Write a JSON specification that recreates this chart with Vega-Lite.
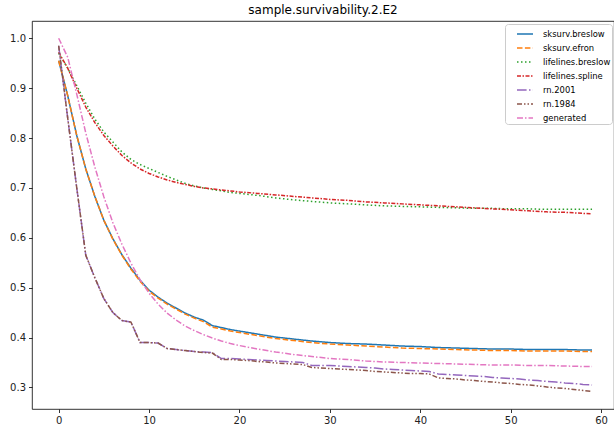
{
  "$schema": "https://vega.github.io/schema/vega-lite/v6.json",
  "width": 582,
  "height": 388,
  "autosize": {"type": "none"},
  "padding": {"left": 32, "top": 21, "right": 0, "bottom": 19},
  "background": "white",
  "title": {"text": "sample.survivability.2.E2", "font": "DejaVu Sans", "fontSize": 12, "fontWeight": "normal", "color": "#000", "offset": 4},
  "config": {
    "view": {"stroke": "#000", "strokeWidth": 0.8},
    "axis": {"labelFont": "DejaVu Sans", "labelFontSize": 10, "labelColor": "#222", "tickColor": "#000", "tickWidth": 0.8, "tickSize": 3.5, "domain": false, "grid": false, "title": null, "labelPadding": 3}
  },
  "data": {"values": [
    {"s":"sksurv.breslow","t":0,"v":0.955},{"s":"sksurv.breslow","t":1,"v":0.885},{"s":"sksurv.breslow","t":2,"v":0.805},{"s":"sksurv.breslow","t":3,"v":0.738},{"s":"sksurv.breslow","t":4,"v":0.683},{"s":"sksurv.breslow","t":5,"v":0.635},{"s":"sksurv.breslow","t":6,"v":0.598},{"s":"sksurv.breslow","t":7,"v":0.566},{"s":"sksurv.breslow","t":8,"v":0.539},{"s":"sksurv.breslow","t":9,"v":0.515},{"s":"sksurv.breslow","t":10,"v":0.495},{"s":"sksurv.breslow","t":11,"v":0.481},{"s":"sksurv.breslow","t":12,"v":0.469},{"s":"sksurv.breslow","t":13,"v":0.459},{"s":"sksurv.breslow","t":14,"v":0.449},{"s":"sksurv.breslow","t":15,"v":0.441},{"s":"sksurv.breslow","t":16,"v":0.435},{"s":"sksurv.breslow","t":17,"v":0.424},{"s":"sksurv.breslow","t":18,"v":0.420},{"s":"sksurv.breslow","t":19,"v":0.416},{"s":"sksurv.breslow","t":20,"v":0.413},{"s":"sksurv.breslow","t":22,"v":0.407},{"s":"sksurv.breslow","t":24,"v":0.401},{"s":"sksurv.breslow","t":26,"v":0.397},{"s":"sksurv.breslow","t":28,"v":0.393},{"s":"sksurv.breslow","t":30,"v":0.390},{"s":"sksurv.breslow","t":32,"v":0.388},{"s":"sksurv.breslow","t":34,"v":0.387},{"s":"sksurv.breslow","t":36,"v":0.385},{"s":"sksurv.breslow","t":38,"v":0.383},{"s":"sksurv.breslow","t":40,"v":0.382},{"s":"sksurv.breslow","t":42,"v":0.380},{"s":"sksurv.breslow","t":44,"v":0.379},{"s":"sksurv.breslow","t":46,"v":0.378},{"s":"sksurv.breslow","t":48,"v":0.377},{"s":"sksurv.breslow","t":50,"v":0.377},{"s":"sksurv.breslow","t":52,"v":0.376},{"s":"sksurv.breslow","t":54,"v":0.376},{"s":"sksurv.breslow","t":56,"v":0.376},{"s":"sksurv.breslow","t":58,"v":0.375},{"s":"sksurv.breslow","t":59,"v":0.375},
    {"s":"sksurv.efron","t":0,"v":0.955},{"s":"sksurv.efron","t":1,"v":0.885},{"s":"sksurv.efron","t":2,"v":0.805},{"s":"sksurv.efron","t":3,"v":0.738},{"s":"sksurv.efron","t":4,"v":0.683},{"s":"sksurv.efron","t":5,"v":0.635},{"s":"sksurv.efron","t":6,"v":0.597},{"s":"sksurv.efron","t":7,"v":0.565},{"s":"sksurv.efron","t":8,"v":0.537},{"s":"sksurv.efron","t":9,"v":0.513},{"s":"sksurv.efron","t":10,"v":0.493},{"s":"sksurv.efron","t":11,"v":0.479},{"s":"sksurv.efron","t":12,"v":0.467},{"s":"sksurv.efron","t":13,"v":0.457},{"s":"sksurv.efron","t":14,"v":0.447},{"s":"sksurv.efron","t":15,"v":0.439},{"s":"sksurv.efron","t":16,"v":0.432},{"s":"sksurv.efron","t":17,"v":0.421},{"s":"sksurv.efron","t":18,"v":0.417},{"s":"sksurv.efron","t":19,"v":0.413},{"s":"sksurv.efron","t":20,"v":0.410},{"s":"sksurv.efron","t":22,"v":0.404},{"s":"sksurv.efron","t":24,"v":0.398},{"s":"sksurv.efron","t":26,"v":0.394},{"s":"sksurv.efron","t":28,"v":0.390},{"s":"sksurv.efron","t":30,"v":0.387},{"s":"sksurv.efron","t":32,"v":0.385},{"s":"sksurv.efron","t":34,"v":0.383},{"s":"sksurv.efron","t":36,"v":0.381},{"s":"sksurv.efron","t":38,"v":0.379},{"s":"sksurv.efron","t":40,"v":0.378},{"s":"sksurv.efron","t":42,"v":0.377},{"s":"sksurv.efron","t":44,"v":0.376},{"s":"sksurv.efron","t":46,"v":0.375},{"s":"sksurv.efron","t":48,"v":0.374},{"s":"sksurv.efron","t":50,"v":0.374},{"s":"sksurv.efron","t":52,"v":0.373},{"s":"sksurv.efron","t":54,"v":0.373},{"s":"sksurv.efron","t":56,"v":0.373},{"s":"sksurv.efron","t":58,"v":0.372},{"s":"sksurv.efron","t":59,"v":0.372},
    {"s":"lifelines.breslow","t":0,"v":0.97},{"s":"lifelines.breslow","t":1,"v":0.94},{"s":"lifelines.breslow","t":2,"v":0.905},{"s":"lifelines.breslow","t":3,"v":0.87},{"s":"lifelines.breslow","t":4,"v":0.838},{"s":"lifelines.breslow","t":5,"v":0.812},{"s":"lifelines.breslow","t":6,"v":0.792},{"s":"lifelines.breslow","t":7,"v":0.772},{"s":"lifelines.breslow","t":8,"v":0.757},{"s":"lifelines.breslow","t":9,"v":0.747},{"s":"lifelines.breslow","t":10,"v":0.739},{"s":"lifelines.breslow","t":11,"v":0.731},{"s":"lifelines.breslow","t":12,"v":0.723},{"s":"lifelines.breslow","t":13,"v":0.716},{"s":"lifelines.breslow","t":14,"v":0.709},{"s":"lifelines.breslow","t":15,"v":0.704},{"s":"lifelines.breslow","t":16,"v":0.700},{"s":"lifelines.breslow","t":17,"v":0.697},{"s":"lifelines.breslow","t":18,"v":0.694},{"s":"lifelines.breslow","t":19,"v":0.691},{"s":"lifelines.breslow","t":20,"v":0.689},{"s":"lifelines.breslow","t":22,"v":0.685},{"s":"lifelines.breslow","t":24,"v":0.680},{"s":"lifelines.breslow","t":26,"v":0.676},{"s":"lifelines.breslow","t":28,"v":0.673},{"s":"lifelines.breslow","t":30,"v":0.670},{"s":"lifelines.breslow","t":32,"v":0.668},{"s":"lifelines.breslow","t":34,"v":0.666},{"s":"lifelines.breslow","t":36,"v":0.664},{"s":"lifelines.breslow","t":38,"v":0.663},{"s":"lifelines.breslow","t":40,"v":0.662},{"s":"lifelines.breslow","t":42,"v":0.661},{"s":"lifelines.breslow","t":44,"v":0.660},{"s":"lifelines.breslow","t":46,"v":0.659},{"s":"lifelines.breslow","t":48,"v":0.659},{"s":"lifelines.breslow","t":50,"v":0.658},{"s":"lifelines.breslow","t":52,"v":0.658},{"s":"lifelines.breslow","t":54,"v":0.657},{"s":"lifelines.breslow","t":56,"v":0.657},{"s":"lifelines.breslow","t":58,"v":0.657},{"s":"lifelines.breslow","t":59,"v":0.657},
    {"s":"lifelines.spline","t":0,"v":0.972},{"s":"lifelines.spline","t":1,"v":0.94},{"s":"lifelines.spline","t":2,"v":0.9},{"s":"lifelines.spline","t":3,"v":0.862},{"s":"lifelines.spline","t":4,"v":0.831},{"s":"lifelines.spline","t":5,"v":0.805},{"s":"lifelines.spline","t":6,"v":0.784},{"s":"lifelines.spline","t":7,"v":0.765},{"s":"lifelines.spline","t":8,"v":0.750},{"s":"lifelines.spline","t":9,"v":0.738},{"s":"lifelines.spline","t":10,"v":0.729},{"s":"lifelines.spline","t":11,"v":0.722},{"s":"lifelines.spline","t":12,"v":0.716},{"s":"lifelines.spline","t":13,"v":0.711},{"s":"lifelines.spline","t":14,"v":0.707},{"s":"lifelines.spline","t":15,"v":0.703},{"s":"lifelines.spline","t":16,"v":0.700},{"s":"lifelines.spline","t":17,"v":0.698},{"s":"lifelines.spline","t":18,"v":0.696},{"s":"lifelines.spline","t":19,"v":0.694},{"s":"lifelines.spline","t":20,"v":0.692},{"s":"lifelines.spline","t":22,"v":0.689},{"s":"lifelines.spline","t":24,"v":0.686},{"s":"lifelines.spline","t":26,"v":0.683},{"s":"lifelines.spline","t":28,"v":0.680},{"s":"lifelines.spline","t":30,"v":0.677},{"s":"lifelines.spline","t":32,"v":0.675},{"s":"lifelines.spline","t":34,"v":0.672},{"s":"lifelines.spline","t":36,"v":0.670},{"s":"lifelines.spline","t":38,"v":0.668},{"s":"lifelines.spline","t":40,"v":0.666},{"s":"lifelines.spline","t":42,"v":0.664},{"s":"lifelines.spline","t":44,"v":0.662},{"s":"lifelines.spline","t":46,"v":0.660},{"s":"lifelines.spline","t":48,"v":0.658},{"s":"lifelines.spline","t":50,"v":0.656},{"s":"lifelines.spline","t":52,"v":0.654},{"s":"lifelines.spline","t":54,"v":0.652},{"s":"lifelines.spline","t":56,"v":0.651},{"s":"lifelines.spline","t":58,"v":0.649},{"s":"lifelines.spline","t":59,"v":0.648},
    {"s":"rn.2001","t":0,"v":0.985},{"s":"rn.2001","t":1,"v":0.84},{"s":"rn.2001","t":2,"v":0.70},{"s":"rn.2001","t":3,"v":0.565},{"s":"rn.2001","t":4,"v":0.52},{"s":"rn.2001","t":5,"v":0.478},{"s":"rn.2001","t":6,"v":0.45},{"s":"rn.2001","t":7,"v":0.434},{"s":"rn.2001","t":8,"v":0.431},{"s":"rn.2001","t":9,"v":0.39},{"s":"rn.2001","t":10,"v":0.39},{"s":"rn.2001","t":11,"v":0.389},{"s":"rn.2001","t":12,"v":0.378},{"s":"rn.2001","t":13,"v":0.376},{"s":"rn.2001","t":14,"v":0.374},{"s":"rn.2001","t":15,"v":0.372},{"s":"rn.2001","t":16,"v":0.371},{"s":"rn.2001","t":17,"v":0.37},{"s":"rn.2001","t":18,"v":0.358},{"s":"rn.2001","t":19,"v":0.358},{"s":"rn.2001","t":20,"v":0.357},{"s":"rn.2001","t":21,"v":0.356},{"s":"rn.2001","t":22,"v":0.355},{"s":"rn.2001","t":23,"v":0.354},{"s":"rn.2001","t":24,"v":0.353},{"s":"rn.2001","t":25,"v":0.352},{"s":"rn.2001","t":26,"v":0.351},{"s":"rn.2001","t":27,"v":0.350},{"s":"rn.2001","t":28,"v":0.344},{"s":"rn.2001","t":29,"v":0.344},{"s":"rn.2001","t":30,"v":0.344},{"s":"rn.2001","t":31,"v":0.343},{"s":"rn.2001","t":32,"v":0.342},{"s":"rn.2001","t":33,"v":0.341},{"s":"rn.2001","t":34,"v":0.340},{"s":"rn.2001","t":35,"v":0.339},{"s":"rn.2001","t":36,"v":0.337},{"s":"rn.2001","t":37,"v":0.336},{"s":"rn.2001","t":38,"v":0.335},{"s":"rn.2001","t":39,"v":0.334},{"s":"rn.2001","t":40,"v":0.333},{"s":"rn.2001","t":41,"v":0.332},{"s":"rn.2001","t":42,"v":0.327},{"s":"rn.2001","t":43,"v":0.326},{"s":"rn.2001","t":44,"v":0.325},{"s":"rn.2001","t":45,"v":0.324},{"s":"rn.2001","t":46,"v":0.323},{"s":"rn.2001","t":47,"v":0.322},{"s":"rn.2001","t":48,"v":0.320},{"s":"rn.2001","t":49,"v":0.319},{"s":"rn.2001","t":50,"v":0.318},{"s":"rn.2001","t":51,"v":0.317},{"s":"rn.2001","t":52,"v":0.315},{"s":"rn.2001","t":53,"v":0.314},{"s":"rn.2001","t":54,"v":0.312},{"s":"rn.2001","t":55,"v":0.311},{"s":"rn.2001","t":56,"v":0.309},{"s":"rn.2001","t":57,"v":0.308},{"s":"rn.2001","t":58,"v":0.306},{"s":"rn.2001","t":59,"v":0.305},
    {"s":"rn.1984","t":0,"v":0.985},{"s":"rn.1984","t":1,"v":0.84},{"s":"rn.1984","t":2,"v":0.70},{"s":"rn.1984","t":3,"v":0.565},{"s":"rn.1984","t":4,"v":0.52},{"s":"rn.1984","t":5,"v":0.478},{"s":"rn.1984","t":6,"v":0.45},{"s":"rn.1984","t":7,"v":0.434},{"s":"rn.1984","t":8,"v":0.431},{"s":"rn.1984","t":9,"v":0.39},{"s":"rn.1984","t":10,"v":0.39},{"s":"rn.1984","t":11,"v":0.389},{"s":"rn.1984","t":12,"v":0.378},{"s":"rn.1984","t":13,"v":0.376},{"s":"rn.1984","t":14,"v":0.374},{"s":"rn.1984","t":15,"v":0.372},{"s":"rn.1984","t":16,"v":0.370},{"s":"rn.1984","t":17,"v":0.369},{"s":"rn.1984","t":18,"v":0.356},{"s":"rn.1984","t":19,"v":0.356},{"s":"rn.1984","t":20,"v":0.355},{"s":"rn.1984","t":21,"v":0.354},{"s":"rn.1984","t":22,"v":0.352},{"s":"rn.1984","t":23,"v":0.351},{"s":"rn.1984","t":24,"v":0.349},{"s":"rn.1984","t":25,"v":0.348},{"s":"rn.1984","t":26,"v":0.347},{"s":"rn.1984","t":27,"v":0.346},{"s":"rn.1984","t":28,"v":0.340},{"s":"rn.1984","t":29,"v":0.339},{"s":"rn.1984","t":30,"v":0.338},{"s":"rn.1984","t":31,"v":0.337},{"s":"rn.1984","t":32,"v":0.336},{"s":"rn.1984","t":33,"v":0.335},{"s":"rn.1984","t":34,"v":0.334},{"s":"rn.1984","t":35,"v":0.332},{"s":"rn.1984","t":36,"v":0.331},{"s":"rn.1984","t":37,"v":0.330},{"s":"rn.1984","t":38,"v":0.329},{"s":"rn.1984","t":39,"v":0.328},{"s":"rn.1984","t":40,"v":0.328},{"s":"rn.1984","t":41,"v":0.327},{"s":"rn.1984","t":42,"v":0.319},{"s":"rn.1984","t":43,"v":0.318},{"s":"rn.1984","t":44,"v":0.317},{"s":"rn.1984","t":45,"v":0.315},{"s":"rn.1984","t":46,"v":0.314},{"s":"rn.1984","t":47,"v":0.312},{"s":"rn.1984","t":48,"v":0.311},{"s":"rn.1984","t":49,"v":0.309},{"s":"rn.1984","t":50,"v":0.308},{"s":"rn.1984","t":51,"v":0.306},{"s":"rn.1984","t":52,"v":0.305},{"s":"rn.1984","t":53,"v":0.303},{"s":"rn.1984","t":54,"v":0.301},{"s":"rn.1984","t":55,"v":0.299},{"s":"rn.1984","t":56,"v":0.298},{"s":"rn.1984","t":57,"v":0.296},{"s":"rn.1984","t":58,"v":0.294},{"s":"rn.1984","t":59,"v":0.292},
    {"s":"generated","t":0,"v":1.0},{"s":"generated","t":1,"v":0.962},{"s":"generated","t":2,"v":0.888},{"s":"generated","t":3,"v":0.81},{"s":"generated","t":4,"v":0.742},{"s":"generated","t":5,"v":0.682},{"s":"generated","t":6,"v":0.63},{"s":"generated","t":7,"v":0.587},{"s":"generated","t":8,"v":0.549},{"s":"generated","t":9,"v":0.516},{"s":"generated","t":10,"v":0.489},{"s":"generated","t":11,"v":0.467},{"s":"generated","t":12,"v":0.449},{"s":"generated","t":13,"v":0.435},{"s":"generated","t":14,"v":0.423},{"s":"generated","t":15,"v":0.414},{"s":"generated","t":16,"v":0.406},{"s":"generated","t":17,"v":0.399},{"s":"generated","t":18,"v":0.393},{"s":"generated","t":19,"v":0.388},{"s":"generated","t":20,"v":0.384},{"s":"generated","t":22,"v":0.377},{"s":"generated","t":24,"v":0.371},{"s":"generated","t":26,"v":0.366},{"s":"generated","t":28,"v":0.362},{"s":"generated","t":30,"v":0.358},{"s":"generated","t":32,"v":0.356},{"s":"generated","t":34,"v":0.353},{"s":"generated","t":36,"v":0.351},{"s":"generated","t":38,"v":0.350},{"s":"generated","t":40,"v":0.349},{"s":"generated","t":42,"v":0.348},{"s":"generated","t":44,"v":0.347},{"s":"generated","t":46,"v":0.346},{"s":"generated","t":48,"v":0.345},{"s":"generated","t":50,"v":0.345},{"s":"generated","t":52,"v":0.344},{"s":"generated","t":54,"v":0.344},{"s":"generated","t":56,"v":0.343},{"s":"generated","t":58,"v":0.342},{"s":"generated","t":59,"v":0.342}
  ]},
  "mark": {"type": "line", "strokeWidth": 1.5, "clip": true},
  "encoding": {
    "x": {"field": "t", "type": "quantitative", "scale": {"domain": [-2.95, 61.43], "nice": false, "zero": false}, "axis": {"values": [0, 10, 20, 30, 40, 50, 60]}},
    "y": {"field": "v", "type": "quantitative", "scale": {"domain": [0.2568, 1.0346], "nice": false, "zero": false}, "axis": {"values": [0.3, 0.4, 0.5, 0.6, 0.7, 0.8, 0.9, 1.0], "format": ".1f"}},
    "color": {"field": "s", "type": "nominal", "title": null,
      "scale": {"domain": ["sksurv.breslow", "sksurv.efron", "lifelines.breslow", "lifelines.spline", "rn.2001", "rn.1984", "generated"],
                "range": ["#1f77b4", "#ff7f0e", "#2ca02c", "#d62728", "#9467bd", "#8c564b", "#e377c2"]},
      "legend": {"orient": "none", "legendX": 473, "legendY": 3, "symbolType": "stroke", "symbolSize": 256, "symbolStrokeWidth": 1.5, "symbolOffset": 10, "labelFont": "DejaVu Sans", "labelFontSize": 8.4, "labelColor": "#000", "padding": 1, "rowPadding": -3.8, "labelOffset": 9, "strokeColor": "#cccccc", "fillColor": "rgba(255,255,255,0.8)", "cornerRadius": 3}},
    "strokeDash": {"field": "s", "type": "nominal", "title": null,
      "scale": {"domain": ["sksurv.breslow", "sksurv.efron", "lifelines.breslow", "lifelines.spline", "rn.2001", "rn.1984", "generated"],
                "range": [[1, 0], [5.5, 2.4], [1.5, 2.5], [4, 1.5, 1.5, 1.5], [9.6, 2.4, 1.5, 2.4], [5, 2, 1.5, 2, 1.5, 2], [6, 2, 1.5, 2]]}}
  }
}
